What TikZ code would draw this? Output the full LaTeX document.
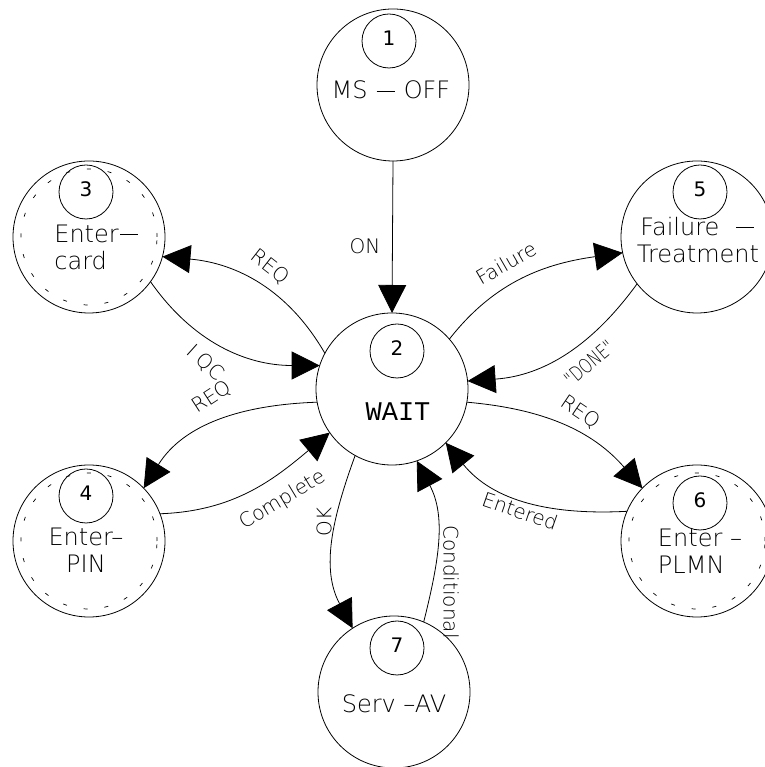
\documentclass[tikz,border=0pt]{standalone}
\usepackage{fontspec}
\setmainfont{DejaVu Sans}
\newfontfamily\thinf{DejaVuSans-ExtraLight.ttf}
\newfontfamily\monof{Liberation Mono}
\newcommand{\cdash}{\kern0.06em\rule[0.31em]{0.75em}{0.55pt}\kern0.06em}
\usetikzlibrary{arrows.meta}
\begin{document}
\begin{tikzpicture}[x=1pt,y=1pt,
  state/.style={circle,draw,line width=0.8pt,minimum size=152pt,inner sep=0pt,outer sep=0pt},
  numc/.style={circle,draw,line width=0.8pt,minimum size=54pt,inner sep=0pt,font=\fontsize{20}{20}\selectfont},
  stxt/.style={font=\thinf\fontsize{24}{27}\selectfont,inner sep=0pt,align=center},
  lbl/.style={font=\thinf\fontsize{20}{20}\selectfont,inner sep=0pt},
  edge/.style={line width=0.8pt,-{Triangle[length=28pt,width=28pt]}},
  ringdash/.style={line width=0.7pt,dash pattern=on 4pt off 17pt}
]
\useasboundingbox (0,0) rectangle (764,767);
% states
\node[state] (C1) at (393,682) {};
\node[state] (W) at (392,378) {};
\node[state] (C3) at (89,530) {};
\node[state] (C4) at (89,226) {};
\node[state] (C5) at (697,530) {};
\node[state] (C6) at (697,226) {};
\node[state] (C7) at (394,75) {};
% dashed rings
\draw[ringdash] (C3.center) circle[radius=68pt];
\draw[ringdash] (C4.center) circle[radius=68pt];
\draw[ringdash] (C6.center) circle[radius=68pt];
% number circles
\node[numc] (n1) at (389,726) {\raisebox{5pt}{1}};
\node[numc] (n2) at (397,416) {\raisebox{5pt}{2}};
\node[numc] (n3) at (86,575) {\raisebox{5pt}{3}};
\node[numc] (n4) at (86,271) {\raisebox{5pt}{4}};
\node[numc] (n5) at (700,575) {\raisebox{5pt}{5}};
\node[numc] (n6) at (700,264) {\raisebox{5pt}{6}};
\node[numc] (n7) at (397,119) {\raisebox{5pt}{7}};
% state texts
\node[stxt] (t1) at (391,677) {MS \cdash{} OFF};
\node[stxt,font=\monof\fontsize{27}{27}\selectfont] (t2) at (398,355) {WAIT};
\node[stxt,align=left] (t3) at (97,520) {Enter\cdash\\card};
\node[stxt] (t4) at (86,217) {Enter–\\PIN};
\node[stxt] (t5) at (698,527) {Failure~~\cdash\\Treatment};
\node[stxt,align=left] (t6) at (700,216) {Enter~–\\PLMN};
\node[stxt] (t7) at (394,63) {Serv –AV};
% edges
\draw[edge] (C1.south) -- (W.north);
\draw[edge] (W.152) to[out=120,in=-5] (C3.-15);
\draw[edge] (C3.-36) to[out=-55,in=180] (W.162);
\draw[edge] (W.190) to[out=182,in=58] (C4.44);
\draw[edge] (C4.21) to[out=2,in=220] (W.215);
\draw[edge] (W.241) to[out=250,in=118] (C7.123);
\draw[edge] (C7.67) to[out=76,in=-62] (W.-71);
\draw[edge] (W.41) to[out=52,in=188] (C5.192);
\draw[edge] (C5.218) to[out=234,in=4] (W.6);
\draw[edge] (W.-10) to[out=-5,in=131] (C6.136);
\draw[edge] (C6.157) to[out=183,in=-51] (W.-45);
% labels
\node[lbl] (lON) at (365,521) {ON};
\node[lbl,rotate=-38] (lreq3) at (270,500) {REQ};
\node[lbl,rotate=-42] (lloc) at (205,404) {I QC};
\node[lbl,rotate=33] (lreq4) at (212,370) {REQ};
\node[lbl,rotate=31] (lcomp) at (283,267) {Complete};
\node[lbl,rotate=90] (lok) at (324,245) {OK};
\node[lbl,rotate=-90] (lcond) at (451,185) {Conditional};
\node[lbl,rotate=30] (lfail) at (506,504) {Failure};
\node[lbl,rotate=40,xscale=0.75] (ldone) at (589,404) {"DONE"};
\node[lbl,rotate=-34] (lreq6) at (580,355) {REQ};
\node[lbl,rotate=-19] (lent) at (520,256) {Entered};
\end{tikzpicture}
\end{document}
